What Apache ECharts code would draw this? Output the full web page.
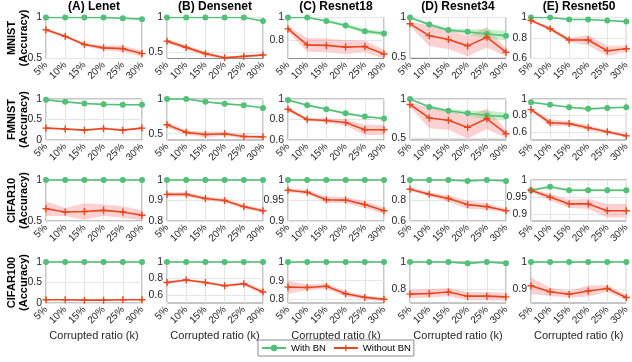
<!DOCTYPE html>
<html>
<head>
<meta charset="utf-8">
<script src="https://cdn.jsdelivr.net/npm/echarts@6/dist/echarts.min.js"></script>
<style>
  html, body { margin: 0; padding: 0; background: #fff; }
  #chart { width: 632px; height: 362px; }
</style>
</head>
<body>
<div id="chart"></div>
<script>
// Corruption ratios on the x axis
const ratios = ['5%', '10%', '15%', '20%', '25%', '30%'];
const models = ['(A) Lenet', '(B) Densenet', '(C) Resnet18', '(D) Resnet34', '(E) Resnet50'];
const datasets = ['MNIST', 'FMNIST', 'CIFAR10', 'CIFAR100'];

// Mean accuracy per model (A..E) for each dataset, with and without batch norm
const mnistWithBN = [
  [1, 1, 1, 1, 0.99, 0.98],
  [1, 1, 1, 1, 1, 0.95],
  [1, 1, 0.97, 0.93, 0.88, 0.86],
  [1, 0.91, 0.84, 0.82, 0.79, 0.77],
  [1, 1, 0.98, 0.98, 0.97, 0.96]
];
const mnistWithoutBN = [
  [0.85, 0.77, 0.67, 0.63, 0.62, 0.56],
  [0.66, 0.57, 0.48, 0.42, 0.44, 0.46],
  [0.9, 0.76, 0.755, 0.74, 0.745, 0.68],
  [0.92, 0.77, 0.72, 0.64, 0.75, 0.56],
  [0.97, 0.89, 0.78, 0.78, 0.675, 0.695]
];
const fmnistWithBN = [
  [0.98, 0.93, 0.89, 0.87, 0.86, 0.86],
  [1, 1, 0.96, 0.93, 0.91, 0.87],
  [0.99, 0.94, 0.9, 0.86, 0.83, 0.81],
  [1, 0.9, 0.85, 0.82, 0.79, 0.78],
  [0.96, 0.93, 0.9, 0.88, 0.89, 0.9]
];
const fmnistWithoutBN = [
  [0.29, 0.27, 0.24, 0.28, 0.24, 0.29],
  [0.63, 0.52, 0.49, 0.5, 0.46, 0.455],
  [0.9, 0.8, 0.79, 0.77, 0.7, 0.7],
  [0.93, 0.76, 0.73, 0.64, 0.75, 0.56],
  [0.87, 0.71, 0.7, 0.65, 0.6, 0.55]
];
const cifar10WithBN = [
  [1, 1, 1, 1, 1, 1],
  [1, 1, 1, 1, 1, 1],
  [1, 1, 1, 1, 1, 1],
  [1, 1, 1, 0.99, 1, 0.99],
  [0.97, 0.98, 0.97, 0.97, 0.97, 0.97]
];
const cifar10WithoutBN = [
  [0.65, 0.61, 0.615, 0.63, 0.61, 0.57],
  [0.93, 0.93, 0.91, 0.9, 0.87, 0.85],
  [0.975, 0.97, 0.952, 0.951, 0.94, 0.925],
  [0.91, 0.86, 0.82, 0.76, 0.74, 0.7],
  [0.97, 0.95, 0.93, 0.93, 0.91, 0.91]
];
const cifar100WithBN = [
  [1, 1, 1, 1, 1, 1],
  [1, 1, 1, 1, 1, 1],
  [1, 1, 1, 1, 1, 1],
  [1, 1, 1, 0.99, 1, 0.99],
  [1, 1, 1, 1, 1, 1]
];
const cifar100WithoutBN = [
  [0.08, 0.08, 0.07, 0.07, 0.08, 0.08],
  [0.75, 0.78, 0.75, 0.71, 0.735, 0.635],
  [0.865, 0.863, 0.87, 0.83, 0.81, 0.8],
  [0.765, 0.77, 0.78, 0.75, 0.75, 0.745],
  [0.913, 0.891, 0.882, 0.894, 0.903, 0.87]
];

// Half-width of the shaded spread around each mean
const mnistWithBNSpread = [
  [0.005, 0.005, 0.005, 0.005, 0.005, 0.005],
  [0.005, 0.005, 0.005, 0.005, 0.005, 0.01],
  [0.005, 0.005, 0.01, 0.015, 0.02, 0.02],
  [0.005, 0.02, 0.02, 0.03, 0.06, 0.06],
  [0.005, 0.005, 0.005, 0.005, 0.005, 0.005]
];
const mnistWithoutBNSpread = [
  [0.02, 0.02, 0.02, 0.03, 0.04, 0.035],
  [0.03, 0.03, 0.03, 0.02, 0.02, 0.02],
  [0.02, 0.06, 0.06, 0.06, 0.05, 0.04],
  [0.03, 0.13, 0.12, 0.13, 0.13, 0.05],
  [0.01, 0.02, 0.02, 0.05, 0.05, 0.03]
];
const fmnistWithBNSpread = [
  [0.01, 0.01, 0.01, 0.01, 0.01, 0.01],
  [0.01, 0.01, 0.01, 0.01, 0.01, 0.01],
  [0.01, 0.01, 0.01, 0.01, 0.01, 0.01],
  [0.005, 0.02, 0.02, 0.03, 0.06, 0.05],
  [0.01, 0.01, 0.01, 0.01, 0.01, 0.01]
];
const fmnistWithoutBNSpread = [
  [0.02, 0.02, 0.02, 0.02, 0.02, 0.02],
  [0.04, 0.03, 0.04, 0.03, 0.03, 0.02],
  [0.02, 0.015, 0.02, 0.03, 0.05, 0.05],
  [0.03, 0.13, 0.12, 0.14, 0.13, 0.05],
  [0.02, 0.04, 0.03, 0.03, 0.02, 0.02]
];
const cifar10WithBNSpread = [
  [0.003, 0.003, 0.003, 0.003, 0.003, 0.003],
  [0.003, 0.003, 0.003, 0.003, 0.003, 0.003],
  [0.002, 0.002, 0.002, 0.002, 0.002, 0.002],
  [0.005, 0.005, 0.005, 0.005, 0.005, 0.005],
  [0.004, 0.004, 0.004, 0.004, 0.004, 0.004]
];
const cifar10WithoutBNSpread = [
  [0.09, 0.05, 0.1, 0.07, 0.07, 0.06],
  [0.01, 0.01, 0.01, 0.01, 0.01, 0.01],
  [0.005, 0.005, 0.008, 0.008, 0.008, 0.008],
  [0.02, 0.02, 0.03, 0.04, 0.03, 0.02],
  [0.005, 0.01, 0.012, 0.015, 0.02, 0.02]
];
const cifar100WithBNSpread = [
  [0.005, 0.005, 0.005, 0.005, 0.005, 0.005],
  [0.003, 0.003, 0.003, 0.003, 0.003, 0.003],
  [0.003, 0.003, 0.003, 0.003, 0.003, 0.003],
  [0.005, 0.005, 0.005, 0.005, 0.005, 0.005],
  [0.003, 0.003, 0.003, 0.003, 0.003, 0.003]
];
const cifar100WithoutBNSpread = [
  [0.005, 0.005, 0.005, 0.005, 0.005, 0.005],
  [0.02, 0.015, 0.015, 0.015, 0.02, 0.03],
  [0.035, 0.015, 0.015, 0.015, 0.01, 0.01],
  [0.03, 0.03, 0.03, 0.03, 0.03, 0.03],
  [0.03, 0.015, 0.012, 0.02, 0.012, 0.01]
];

// Y-axis ranges and tick labels per panel (rows: datasets, columns: models)
const yMin = [
  [0.5, 0.41, 0.64, 0.48, 0.6],
  [0, 0.41, 0.6, 0.48, 0.5],
  [0.5, 0.8, 0.9, 0.6, 0.88],
  [0, 0.5, 0.78, 0.7, 0.85]
];
const yTicks = [
  [[0.5, 1], [0.5, 1], [0.8, 1], [0.5, 1], [0.6, 0.8, 1]],
  [[0, 0.5, 1], [0.5, 1], [0.6, 0.8, 1], [0.5, 1], [0.6, 0.8, 1]],
  [[0.5, 1], [0.8, 0.9, 1], [0.9, 0.95, 1], [0.6, 0.8, 1], [0.9, 0.95, 1]],
  [[0, 0.5, 1], [0.6, 0.8, 1], [0.8, 0.9, 1], [0.8, 1], [0.9, 1]]
];

const withBN = [mnistWithBN, fmnistWithBN, cifar10WithBN, cifar100WithBN];
const withoutBN = [mnistWithoutBN, fmnistWithoutBN, cifar10WithoutBN, cifar100WithoutBN];
const withBNSpread = [mnistWithBNSpread, fmnistWithBNSpread, cifar10WithBNSpread, cifar100WithBNSpread];
const withoutBNSpread = [mnistWithoutBNSpread, fmnistWithoutBNSpread, cifar10WithoutBNSpread, cifar100WithoutBNSpread];

// Panel layout
const colLeft = [46, 167, 288, 410, 531];
const panelWidth = 96;
const rowTop = [17.5, 99, 180, 262];
const panelHeight = 41;

const GREEN = '#52c078';
const RED = '#e8461c';
const GREEN_BAND = 'rgba(110, 215, 110, 0.38)';
const RED_BAND = 'rgba(250, 110, 115, 0.32)';
const PLUS = 'path://M4,0h2v4h4v2h-4v4h-2v-4h-4v-2h4z';
const FONT = 'Liberation Sans, Arial, sans-serif';

const grids = [], xAxes = [], yAxes = [], series = [], titles = [], graphics = [];

// Shaded band drawn as a stacked pair: invisible lower edge + filled width
function bandSeries(idx, mean, spread, color, key) {
  const lower = mean.map((v, i) => +(v - spread[i]).toFixed(4));
  const width = spread.map(s => +(2 * s).toFixed(4));
  const stack = 'band-' + key + '-' + idx;
  series.push({
    type: 'line', xAxisIndex: idx, yAxisIndex: idx, stack: stack,
    data: lower, symbol: 'none', lineStyle: { opacity: 0 }, silent: true, z: 1
  });
  series.push({
    type: 'line', xAxisIndex: idx, yAxisIndex: idx, stack: stack,
    data: width, symbol: 'none', lineStyle: { opacity: 0 },
    areaStyle: { color: color, opacity: 1 }, silent: true, z: 1
  });
}

for (let r = 0; r < 4; r++) {
  for (let c = 0; c < 5; c++) {
    const idx = r * 5 + c;
    grids.push({
      left: colLeft[c], top: rowTop[r], width: panelWidth, height: panelHeight,
      show: true, borderColor: '#8c8c8c', borderWidth: 1, backgroundColor: 'transparent'
    });
    xAxes.push({
      type: 'category', gridIndex: idx, data: ratios, boundaryGap: false,
      axisLine: { show: false }, axisTick: { show: false },
      splitLine: { show: true, lineStyle: { color: '#e5e5e5', width: 1 } },
      axisLabel: { rotate: 45, fontSize: 10, color: '#262626', fontFamily: FONT, margin: 5, interval: 0 },
      name: r === 3 ? 'Corrupted ratio (k)' : '',
      nameLocation: 'middle', nameGap: 27,
      nameTextStyle: { fontSize: 11, color: '#262626', fontFamily: FONT }
    });
    yAxes.push({
      type: 'value', gridIndex: idx, min: yMin[r][c], max: 1,
      axisLine: { show: false },
      axisTick: { show: false, customValues: yTicks[r][c] },
      axisLabel: {
        customValues: yTicks[r][c], fontSize: 10.5, color: '#262626', fontFamily: FONT, margin: 4,
        formatter: v => String(+v.toFixed(2))
      },
      splitLine: { show: true, lineStyle: { color: '#e5e5e5', width: 1 } }
    });
    bandSeries(idx, withoutBN[r][c], withoutBNSpread[r][c], RED_BAND, 'nobn');
    bandSeries(idx, withBN[r][c], withBNSpread[r][c], GREEN_BAND, 'bn');
    series.push({
      name: 'With BN', type: 'line', xAxisIndex: idx, yAxisIndex: idx,
      data: withBN[r][c], symbol: 'circle', symbolSize: 6,
      lineStyle: { color: GREEN, width: 1.6 }, itemStyle: { color: GREEN }, z: 3
    });
    series.push({
      name: 'Without BN', type: 'line', xAxisIndex: idx, yAxisIndex: idx,
      data: withoutBN[r][c], symbol: PLUS, symbolSize: 7,
      lineStyle: { color: RED, width: 1.6 }, itemStyle: { color: RED }, z: 4
    });
  }
}

models.forEach((m, c) => {
  titles.push({
    text: m, left: colLeft[c] + panelWidth / 2, top: 1, padding: 0, textAlign: 'center',
    textStyle: { fontSize: 12, fontWeight: 'bold', color: '#000', fontFamily: FONT }
  });
});

datasets.forEach((d, r) => {
  graphics.push({
    type: 'text', x: 18, y: rowTop[r] + panelHeight / 2, rotation: Math.PI / 2,
    style: {
      text: d + '\n(Accuracy)', fill: '#000', align: 'center', verticalAlign: 'middle',
      font: 'bold 11px ' + FONT, lineHeight: 12
    }
  });
});

const chart = echarts.init(document.getElementById('chart'), null, { renderer: 'canvas' });
chart.setOption({
  animation: false,
  backgroundColor: '#fff',
  title: titles,
  grid: grids,
  xAxis: xAxes,
  yAxis: yAxes,
  series: series,
  graphic: graphics,
  legend: {
    data: ['With BN', 'Without BN'],
    left: 258, top: 340, padding: [3, 3], itemWidth: 24, itemHeight: 8, itemGap: 7,
    borderColor: '#8c8c8c', borderWidth: 1, backgroundColor: '#fff',
    textStyle: { fontSize: 9.5, color: '#000', fontFamily: FONT }
  }
});
</script>
</body>
</html>
